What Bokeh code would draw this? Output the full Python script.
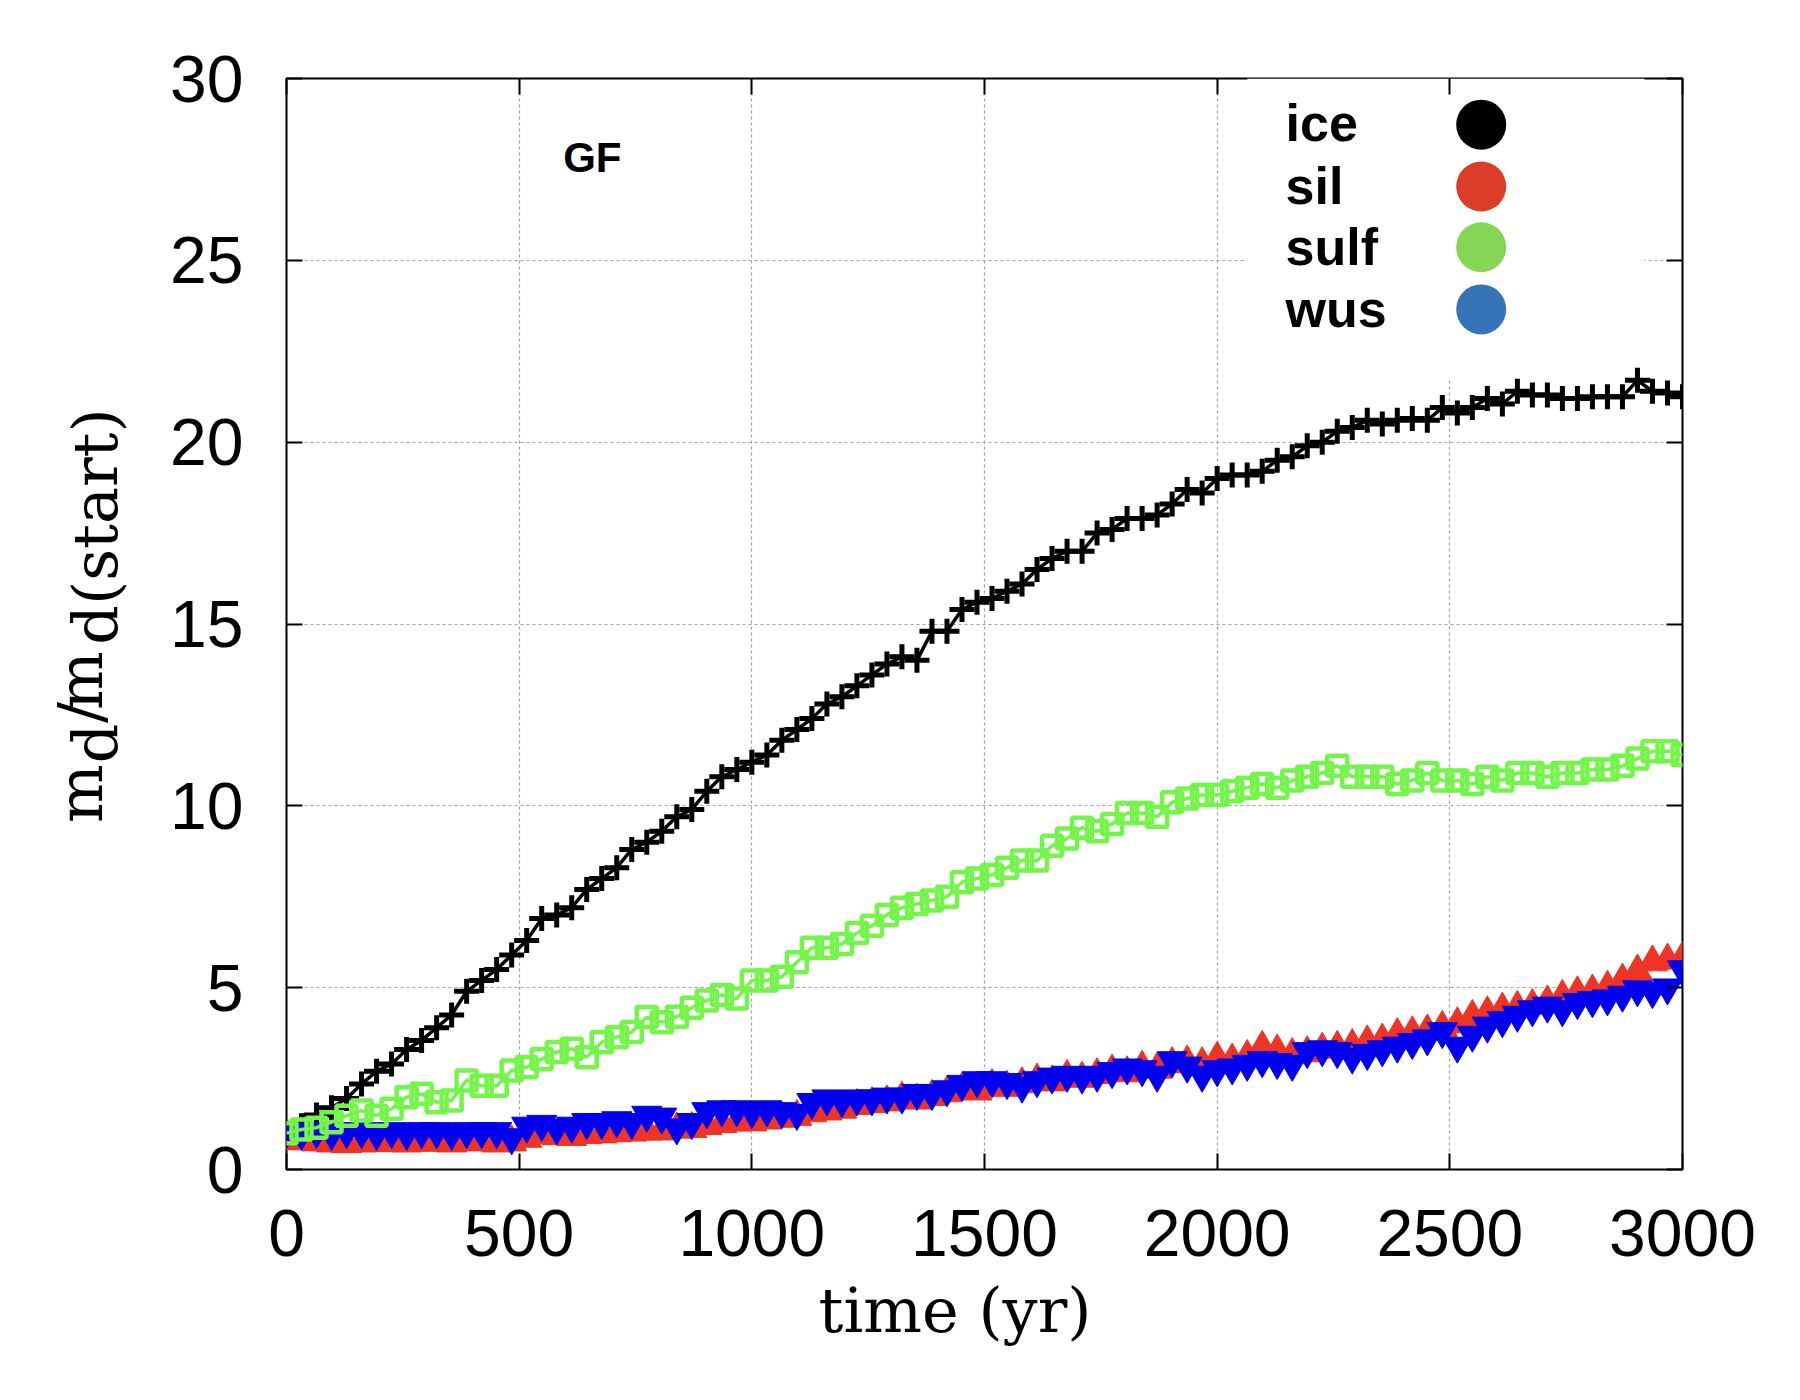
import numpy as np
from bokeh.plotting import figure
from bokeh.layouts import row
from bokeh.models import Range1d, LinearAxis, FixedTicker, Label, Title
from bokeh.embed import file_html
from bokeh.resources import INLINE

# ---------------- data ----------------
time_yr = np.linspace(0, 3000, 94)

ice = [1.0, 1.2, 1.5, 1.7, 1.95, 2.35, 2.7, 2.9, 3.3, 3.55,
       3.9, 4.25, 4.9, 5.2, 5.5, 5.9, 6.3, 6.9, 7.0, 7.2,
       7.7, 8.0, 8.3, 8.8, 9.0, 9.3, 9.7, 9.9, 10.4, 10.8,
       11.0, 11.2, 11.4, 11.8, 12.1, 12.4, 12.8, 13.0, 13.3, 13.6,
       13.9, 14.1, 14.0, 14.8, 14.8, 15.4, 15.6, 15.7, 15.9, 16.1,
       16.5, 16.8, 17.0, 17.0, 17.5, 17.6, 17.9, 17.9, 18.0, 18.3,
       18.7, 18.6, 19.0, 19.1, 19.1, 19.2, 19.5, 19.6, 19.9, 20.0,
       20.3, 20.4, 20.6, 20.5, 20.6, 20.65, 20.6, 20.95, 20.8, 20.95,
       21.2, 21.05, 21.4, 21.3, 21.3, 21.2, 21.2, 21.25, 21.25, 21.25,
       21.7, 21.4, 21.35, 21.25]

sil = [0.8, 0.78, 0.75, 0.72, 0.7, 0.72, 0.74, 0.73, 0.72, 0.75,
       0.74, 0.72, 0.75, 0.76, 0.72, 0.75, 0.85, 0.95, 0.92, 0.9,
       0.95, 0.97, 1.0, 1.02, 1.05, 1.05, 1.1, 1.12, 1.2, 1.25,
       1.3, 1.3, 1.35, 1.4, 1.45, 1.55, 1.6, 1.65, 1.75, 1.8,
       1.85, 1.95, 1.9, 2.0, 2.1, 2.2, 2.15, 2.3, 2.25, 2.35,
       2.45, 2.4, 2.55, 2.5, 2.6, 2.7, 2.65, 2.8, 2.75, 2.9,
       2.95, 2.9, 3.05, 3.0, 3.1, 3.35, 3.25, 3.15, 3.2, 3.3,
       3.35, 3.4, 3.5, 3.55, 3.7, 3.75, 3.8, 3.9, 4.0, 4.2,
       4.3, 4.4, 4.45, 4.5, 4.6, 4.75, 4.85, 4.9, 5.0, 5.2,
       5.45, 5.7, 5.75, 5.8]

sulf = [1.0, 1.1, 1.15, 1.3, 1.48, 1.62, 1.48, 1.67, 1.99, 2.08,
        1.85, 1.9, 2.45, 2.3, 2.3, 2.72, 2.81, 3.04, 3.23, 3.32,
        3.09, 3.5, 3.64, 3.78, 4.19, 4.05, 4.2, 4.45, 4.65, 4.8,
        4.7, 5.2, 5.2, 5.3, 5.7, 6.1, 6.1, 6.2, 6.5, 6.7,
        7.0, 7.2, 7.3, 7.4, 7.5, 7.9, 8.0, 8.1, 8.3, 8.5,
        8.5, 8.9, 9.1, 9.4, 9.3, 9.5, 9.8, 9.8, 9.7, 10.1,
        10.2, 10.3, 10.3, 10.4, 10.5, 10.6, 10.5, 10.7, 10.8, 10.9,
        11.1, 10.8, 10.8, 10.8, 10.6, 10.7, 10.9, 10.7, 10.7, 10.6,
        10.8, 10.7, 10.9, 10.9, 10.8, 10.9, 10.9, 11.0, 11.0, 11.1,
        11.3, 11.5, 11.5, 11.4]

wus = [1.05, 1.0, 1.05, 1.0, 1.05, 1.05, 1.0, 1.05, 1.0, 1.05,
       1.05, 1.0, 1.05, 1.05, 1.05, 0.88, 1.2, 1.25, 1.15, 1.2,
       1.3, 1.3, 1.35, 1.3, 1.5, 1.45, 1.15, 1.3, 1.6, 1.65,
       1.65, 1.6, 1.65, 1.6, 1.55, 1.85, 1.95, 1.9, 1.95, 1.95,
       2.0, 2.0, 2.1, 2.1, 2.2, 2.35, 2.45, 2.45, 2.4, 2.3,
       2.45, 2.55, 2.6, 2.55, 2.6, 2.7, 2.8, 2.75, 2.6, 3.0,
       2.85, 2.6, 2.75, 2.8, 2.9, 3.0, 2.95, 2.9, 3.25, 3.3,
       3.25, 3.1, 3.2, 3.3, 3.4, 3.5, 3.6, 3.8, 3.4, 3.7,
       3.95, 4.1, 4.25, 4.4, 4.5, 4.4, 4.6, 4.65, 4.7, 4.8,
       4.95, 4.9, 5.0, 5.5]

x_ticks = [0, 500, 1000, 1500, 2000, 2500, 3000]
y_ticks = [0, 5, 10, 15, 20, 25, 30]

legend_names = ["ice", "sil", "sulf", "wus"]
legend_colors = ["#000000", "#DB3D29", "#85D654", "#3575B7"]
legend_rows_y = [28.78, 27.05, 25.38, 23.67]      # text positions (data units)
legend_dots_y = [28.73, 27.03, 25.36, 23.65]      # circle centres (data units)

# ---------------- sizes ----------------
H = 1379          # common height of the two panels
YLAB_W = 160      # width of the strip that holds the y title
TOP, BOTTOM = 78, 1169   # page rows of the plot frame

# ---------------- main figure ----------------
p = figure(frame_width=1396, frame_height=BOTTOM - TOP,
           x_range=Range1d(0, 3000), y_range=Range1d(0, 30),
           output_backend="svg", toolbar_location=None,
           min_border_left=286 - YLAB_W, min_border_top=TOP,
           min_border_right=100, min_border_bottom=H - BOTTOM,
           background_fill_color="white", border_fill_color="white")

p.outline_line_color = "black"
p.outline_line_width = 2

TICK_FONT = "Liberation Sans"
SERIF = "DejaVu Serif"

def style_axis(ax, ticks, labels=True):
    ax.ticker = FixedTicker(ticks=ticks)
    ax.axis_line_color = None
    ax.major_tick_in = 16
    ax.major_tick_out = 0
    ax.major_tick_line_width = 2
    ax.major_tick_line_color = "black"
    ax.minor_tick_line_color = None
    if labels:
        ax.major_label_text_font = TICK_FONT
        ax.major_label_text_font_size = "66px"
        ax.major_label_text_color = "black"
    else:
        ax.major_label_overrides = {t: "" for t in ticks}
        ax.major_label_text_font_size = "1px"

style_axis(p.xaxis[0], x_ticks)
p.xaxis[0].major_label_standoff = 40

style_axis(p.yaxis[0], y_ticks)
p.yaxis[0].major_label_standoff = 43

top_ax = LinearAxis()
style_axis(top_ax, x_ticks, labels=False)
p.add_layout(top_ax, "above")
right_ax = LinearAxis()
style_axis(right_ax, y_ticks, labels=False)
p.add_layout(right_ax, "right")

# x title, placed slightly left of the frame centre as in the original
p.add_layout(Title(text="time (yr)", align="left", offset=532,
                   text_font=SERIF, text_font_size="62px",
                   text_font_style="normal", text_color="black",
                   standoff=26), "below")

for g, ticks in ((p.xgrid[0], x_ticks), (p.ygrid[0], y_ticks)):
    g.ticker = FixedTicker(ticks=ticks)
    g.grid_line_color = "#A0A0A0"
    g.grid_line_dash = "3 3"
    g.grid_line_width = 1.2

# white key box over the grid
p.quad(left=[2065], right=[2918], bottom=[21.7], top=[30],
       fill_color="white", line_color=None)

# ---------------- series ----------------
p.line(time_yr, ice, line_color="black", line_width=3.5)
p.scatter(time_yr, ice, marker="cross", size=25, line_color="black", line_width=5)

p.scatter(time_yr, sil, marker="triangle", size=30, fill_color="#EE3424",
          line_color="#EE3424", line_width=1)

p.scatter(time_yr, wus, marker="inverted_triangle", size=30, fill_color="#0000EE",
          line_color="#0000EE", line_width=1)

p.line(time_yr, sulf, line_color="#74F54A", line_width=3.5)
p.scatter(time_yr, sulf, marker="square", size=20, fill_color=None,
          line_color="#74F54A", line_width=4.5)

# ---------------- key ----------------
p.scatter([2567.4] * 4, legend_dots_y, marker="circle", size=50,
          fill_color=legend_colors, line_color=None)
for name, yb in zip(legend_names, legend_rows_y):
    p.add_layout(Label(x=2147, y=yb, text=name, text_font=TICK_FONT,
                       text_font_style="bold", text_font_size="52px",
                       text_align="left", text_baseline="alphabetic",
                       text_color="black"))

p.add_layout(Label(x=594.6, y=27.83, text="GF", text_font=TICK_FONT,
                   text_font_style="bold", text_font_size="42px",
                   text_align="left", text_baseline="alphabetic",
                   text_color="black"))

# ---------------- y title strip: m_d / m_d(start) ----------------
# the strip's frame is aligned with the main frame (rows TOP..BOTTOM),
# so its y range is expressed in "H - page row" units over that span
ylab = figure(width=YLAB_W, height=H, x_range=Range1d(0, YLAB_W),
              y_range=Range1d(H - BOTTOM, H - TOP),
              x_axis_type=None, y_axis_type=None, output_backend="svg",
              toolbar_location=None, min_border=0,
              min_border_top=TOP, min_border_bottom=H - BOTTOM,
              background_fill_color="white", border_fill_color="white")
ylab.outline_line_color = None

MAIN_MID = 80      # pixel column of the middle of the main text
SUB_MID = 95       # pixel column of the middle of the lowered text
ylab_pieces = [("m", MAIN_MID, H - 793), ("d", SUB_MID, H - 743),
               ("/", MAIN_MID, H - 712), ("m", MAIN_MID, H - 680),
               ("d(start)", SUB_MID, H - 526)]
for txt, xs, ys in ylab_pieces:
    ylab.add_layout(Label(x=xs, y=ys, text=txt, text_font=SERIF,
                          text_font_size="62px", angle=90, angle_units="deg",
                          text_align="center", text_baseline="middle",
                          text_color="black"))

layout = row(ylab, p, spacing=0)
open("out.html", "w").write(file_html(layout, INLINE))
